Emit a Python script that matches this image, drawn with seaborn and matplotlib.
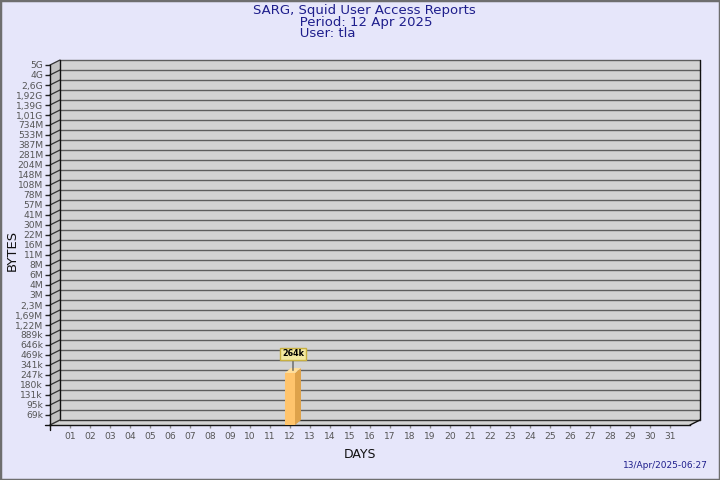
import numpy as np
import pandas as pd
import matplotlib
matplotlib.use("Agg")
import matplotlib.pyplot as plt
import seaborn as sns
from matplotlib.patches import Polygon, Rectangle
from matplotlib.lines import Line2D
from matplotlib.transforms import IdentityTransform, ScaledTranslation
from matplotlib.ticker import NullLocator

# ---------------- data ----------------
day_numbers = list(range(1, 32))
day_labels = [f"{d:02d}" for d in day_numbers]
bar_days = [12]
bar_bytes = [264000]
bar_texts = ["264k"]
y_tick_labels = ["69k", "95k", "131k", "180k", "247k", "341k", "469k", "646k", "889k",
                 "1,22M", "1,69M", "2,3M", "3M", "4M", "6M", "8M", "11M", "16M", "22M",
                 "30M", "41M", "57M", "78M", "108M", "148M", "204M", "281M", "387M",
                 "533M", "734M", "1,01G", "1,39G", "1,92G", "2,6G", "4G", "5G"]
y_range = (50e3, 5e9)
title_lines = ["SARG, Squid User Access Reports", "Period: 12 Apr 2025", "User: tla"]
footer_text = "13/Apr/2025-06:27"
x_label = "DAYS"
y_label = "BYTES"

# ---------------- style ----------------
sns.set_theme(style="white")
plt.rcParams["font.family"] = ["DejaVu Sans"]

BG = "#e6e6fa"
WALL = "#d3d3d3"
SIDE_WALL = "#c2c2c2"
GRID = "#5e5e5e"
NAVY = "#1e1e8c"
TICKC = "#555555"

fig = plt.figure(figsize=(7.2, 4.8), dpi=100, facecolor=BG)
W, H = 720, 480
ax = fig.add_axes([50 / W, 55 / H, 640 / W, 360 / H])
ax.set_facecolor("none")

df = pd.DataFrame({"day": bar_days, "bytes": bar_bytes})
sns.barplot(data=df, x="day", y="bytes", native_scale=True, log_scale=(False, True),
            width=0.5, color="#ffc46c", saturation=1, ax=ax, edgecolor="none",
            linewidth=0, err_kws={"linewidth": 0})

ax.set_xlim(0, 32)
ax.set_ylim(*y_range)
n = len(y_tick_labels)
tick_pos = [y_range[0] * (y_range[1] / y_range[0]) ** (k / n) for k in range(1, n + 1)]
ax.set_yticks(tick_pos, labels=y_tick_labels)
ax.yaxis.set_minor_locator(NullLocator())
ax.set_xticks(day_numbers, labels=day_labels)
ax.xaxis.set_minor_locator(NullLocator())

ax.tick_params(axis="y", direction="out", length=3.5, width=1, color="#222222",
               labelsize=6.6, labelcolor=TICKC, pad=1.5, left=True)
ax.tick_params(axis="x", direction="out", length=2.5, width=1, color="#888888",
               labelsize=6.6, labelcolor=TICKC, pad=2.5, bottom=True)

for side in ["top", "right"]:
    ax.spines[side].set_visible(False)
for side in ["left", "bottom"]:
    ax.spines[side].set_visible(True)
    ax.spines[side].set_color("#111111")
    ax.spines[side].set_linewidth(1)
    ax.spines[side].set_zorder(4)

ax.set_xlabel(x_label, fontsize=9, color="#111111")
ax.set_ylabel(y_label, fontsize=9.5, color="#111111")
ax.xaxis.set_label_coords((360 - 50) / 640, (425 - 455) / 360)
ax.xaxis.label.set_va("center")
ax.yaxis.set_label_coords((12 - 50) / 640, (425 - 250) / 360)
ax.yaxis.label.set_va("center")

# ---------------- 3D decoration (display coords) ----------------
DX, DY = 10, 5
ID = IdentityTransform()
ta = ax.transAxes
fl = ta.transform((0, 0)); fr = ta.transform((1, 0))
tl = ta.transform((0, 1)); tr = ta.transform((1, 1))
off = np.array([DX, DY])

ax.add_artist(Polygon([fl + off, fr + off, tr + off, tl + off], closed=True,
                      transform=ID, facecolor=WALL, edgecolor="none", zorder=0.5, clip_on=False))
ax.add_artist(Polygon([fl, tl, tl + off, fl + off], closed=True, transform=ID,
                      facecolor=SIDE_WALL, edgecolor="none", zorder=0.6, clip_on=False))
ax.add_artist(Polygon([fl, fr, fr + off, fl + off], closed=True, transform=ID,
                      facecolor=WALL, edgecolor="none", zorder=0.6, clip_on=False))

ytr = ax.get_yaxis_transform()
for t in tick_pos:
    front = ytr.transform((0, t))
    back_r = ytr.transform((1, t)) + off
    ax.add_artist(Line2D([front[0] + DX, back_r[0]], [front[1] + DY, back_r[1]],
                         transform=ID, color=GRID, lw=1, zorder=1, clip_on=False))
    ax.add_artist(Line2D([front[0], front[0] + DX], [front[1], front[1] + DY],
                         transform=ID, color="#333333", lw=0.9, zorder=1, clip_on=False))

ax.add_artist(Line2D([fl[0] + DX, tl[0] + DX], [fl[1] + DY, tl[1] + DY], transform=ID,
                     color="#111111", lw=1, zorder=1.2, clip_on=False))
ax.add_artist(Line2D([fr[0] + DX, tr[0] + DX], [fr[1] + DY, tr[1] + DY], transform=ID,
                     color="#111111", lw=1, zorder=1.2, clip_on=False))
ax.add_artist(Line2D([fl[0] + DX, fr[0] + DX], [fl[1] + DY, fr[1] + DY], transform=ID,
                     color="#333333", lw=1, zorder=1.2, clip_on=False))
ax.add_artist(Line2D([fl[0], fl[0] + DX], [fl[1], fl[1] + DY], transform=ID,
                     color="#333333", lw=1, zorder=1.2, clip_on=False))
ax.add_artist(Line2D([fr[0], fr[0] + DX], [fr[1], fr[1] + DY], transform=ID,
                     color="#111111", lw=1, zorder=1.2, clip_on=False))
ax.add_artist(Line2D([fl[0] - 5, fl[0]], [fl[1], fl[1]], transform=ID,
                     color="#111111", lw=1, zorder=4, clip_on=False))
ax.add_artist(Line2D([fl[0], fl[0]], [fl[1], fl[1] - 5], transform=ID,
                     color="#111111", lw=1, zorder=4, clip_on=False))

# ---------------- 3D bars ----------------
BDX, BDY = 6, 5
boff = np.array([BDX, BDY])
y_floor = ax.get_ylim()[0]
for patch, txt in zip(list(ax.patches), bar_texts):
    x0, w = patch.get_x(), patch.get_width()
    top = patch.get_y() + patch.get_height()
    patch.set_y(y_floor)
    patch.set_height(top - y_floor)
    patch.set_zorder(5)
    patch.set_clip_on(False)
    p_tl = ax.transData.transform((x0, top))
    p_tr = ax.transData.transform((x0 + w, top))
    p_br = ax.transData.transform((x0 + w, y_floor))
    ax.add_artist(Polygon([p_br, p_tr, p_tr + boff, p_br + boff], closed=True, transform=ID,
                          facecolor="#dea24a", edgecolor="none", zorder=5, clip_on=False))
    ax.add_artist(Polygon([p_tl, p_tr, p_tr + boff, p_tl + boff], closed=True, transform=ID,
                          facecolor="#ffdf9c", edgecolor="none", zorder=5, clip_on=False))
    top_center = ax.transData + ScaledTranslation(BDX / 2 / 100, BDY / 2 / 100, fig.dpi_scale_trans)
    ax.annotate(txt, xy=(x0 + w / 2, top), xycoords=top_center,
                xytext=(0, 12), textcoords="offset pixels",
                ha="center", va="bottom", fontsize=5.8, fontweight="bold", color="#000000",
                bbox=dict(boxstyle="square,pad=0.2", facecolor="#f2e8a0", edgecolor="#c8b040", lw=1),
                arrowprops=dict(arrowstyle="-", color="#555555", lw=0.9, shrinkA=0, shrinkB=0),
                zorder=7, annotation_clip=False)

# ---------------- titles ----------------
indent = " " * 11
title_block = "\n".join([title_lines[0]] + [indent + s for s in title_lines[1:]])
fig.text(253 / W, 1 - 4 / H, title_block, ha="left", va="top", fontsize=9.5,
         color=NAVY, linespacing=0.86, multialignment="left")
fig.text(708 / W, 1 - 466 / H, footer_text, ha="right", va="center", fontsize=6.5, color=NAVY)

fig.patches.append(Rectangle((0, 0), 1, 1, transform=fig.transFigure, fill=False,
                             edgecolor="#6e6e6e", lw=2.5, zorder=10))

fig.savefig("out.png", dpi=100, facecolor=BG)
